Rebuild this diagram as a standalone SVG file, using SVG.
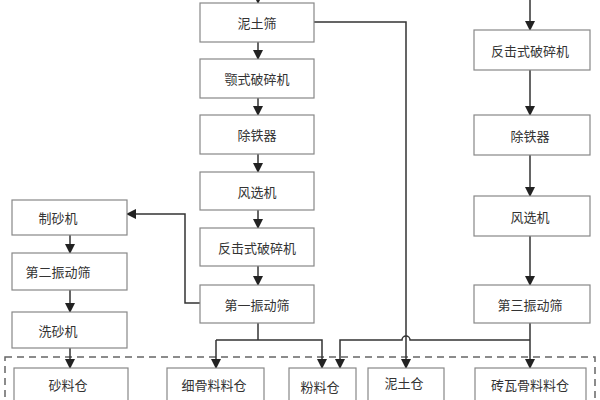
<svg xmlns="http://www.w3.org/2000/svg" width="600" height="400" viewBox="0 0 600 400">
<style>
rect.n{fill:#fff;stroke:#888;stroke-width:1.2}
text{font-family:"Noto Sans CJK SC",sans-serif;font-size:13px;fill:#333;text-anchor:middle;dominant-baseline:central}
.c{fill:none;stroke:#333;stroke-width:1.5}
</style>
<defs><marker id="a" viewBox="0 0 10 10" refX="9" refY="5" markerWidth="7" markerHeight="7" orient="auto"><path d="M0,0L10,5L0,10z" fill="#222"/></marker></defs>
<rect x="5" y="357" width="590" height="60" fill="none" stroke="#666" stroke-width="1.5" stroke-dasharray="7,5"/>
<g id="connectors">
<path class="c" d="M258,0V3" marker-end="url(#a)"/>
<path class="c" d="M258,42V59" marker-end="url(#a)"/>
<path class="c" d="M258,98V115" marker-end="url(#a)"/>
<path class="c" d="M258,154V172" marker-end="url(#a)"/>
<path class="c" d="M258,210V228" marker-end="url(#a)"/>
<path class="c" d="M258,266V285" marker-end="url(#a)"/>
<path class="c" d="M314,22H406V368" marker-end="url(#a)"/>
<path class="c" d="M200,303H185V214H127" marker-end="url(#a)"/>
<path class="c" d="M70,235V253" marker-end="url(#a)"/>
<path class="c" d="M70,290V312" marker-end="url(#a)"/>
<path class="c" d="M70,348V368" marker-end="url(#a)"/>
<path class="c" d="M258,323V340"/>
<path class="c" d="M216,340H322V368" marker-end="url(#a)"/>
<path class="c" d="M216,340V368" marker-end="url(#a)"/>
<path class="c" d="M530,0V30" marker-end="url(#a)"/>
<path class="c" d="M530,70V115" marker-end="url(#a)"/>
<path class="c" d="M530,155V196" marker-end="url(#a)"/>
<path class="c" d="M530,236V285" marker-end="url(#a)"/>
<path class="c" d="M530,323V368" marker-end="url(#a)"/>
<path class="c" d="M530,340H410A4,4 0 0 0 402,340H340V368" marker-end="url(#a)"/>
</g>
<g id="n1"><rect class="n" x="200" y="3" width="114" height="39"/><text x="257" y="22">泥土筛</text></g>
<g id="n2"><rect class="n" x="200" y="59" width="114" height="39"/><text x="257" y="78">颚式破碎机</text></g>
<g id="n3"><rect class="n" x="200" y="115" width="114" height="39"/><text x="257" y="134">除铁器</text></g>
<g id="n4"><rect class="n" x="200" y="172" width="114" height="38"/><text x="257" y="191">风选机</text></g>
<g id="n5"><rect class="n" x="200" y="228" width="114" height="38"/><text x="257" y="247">反击式破碎机</text></g>
<g id="n6"><rect class="n" x="200" y="285" width="114" height="38"/><text x="257" y="304">第一振动筛</text></g>
<g id="n7"><rect class="n" x="12" y="200" width="115" height="35"/><text x="58" y="217">制砂机</text></g>
<g id="n8"><rect class="n" x="12" y="253" width="115" height="37"/><text x="58" y="271">第二振动筛</text></g>
<g id="n9"><rect class="n" x="12" y="312" width="115" height="36"/><text x="58" y="330">洗砂机</text></g>
<g id="n10"><rect class="n" x="474" y="30" width="116" height="40"/><text x="530" y="50">反击式破碎机</text></g>
<g id="n11"><rect class="n" x="474" y="115" width="116" height="40"/><text x="530" y="135">除铁器</text></g>
<g id="n12"><rect class="n" x="474" y="196" width="116" height="40"/><text x="530" y="216">风选机</text></g>
<g id="n13"><rect class="n" x="474" y="285" width="116" height="38"/><text x="530" y="304">第三振动筛</text></g>
<g id="b1"><rect class="n" x="14" y="368" width="114" height="45"/><text x="68" y="384">砂料仓</text></g>
<g id="b2"><rect class="n" x="167" y="368" width="97" height="45"/><text x="214" y="384">细骨料料仓</text></g>
<g id="b3"><rect class="n" x="289" y="368" width="67" height="45"/><text x="320" y="386">粉料仓</text></g>
<g id="b4"><rect class="n" x="368" y="368" width="76" height="45"/><text x="404" y="382">泥土仓</text></g>
<g id="b5"><rect class="n" x="475" y="368" width="111" height="45"/><text x="530" y="384">砖瓦骨料料仓</text></g>
</svg>
